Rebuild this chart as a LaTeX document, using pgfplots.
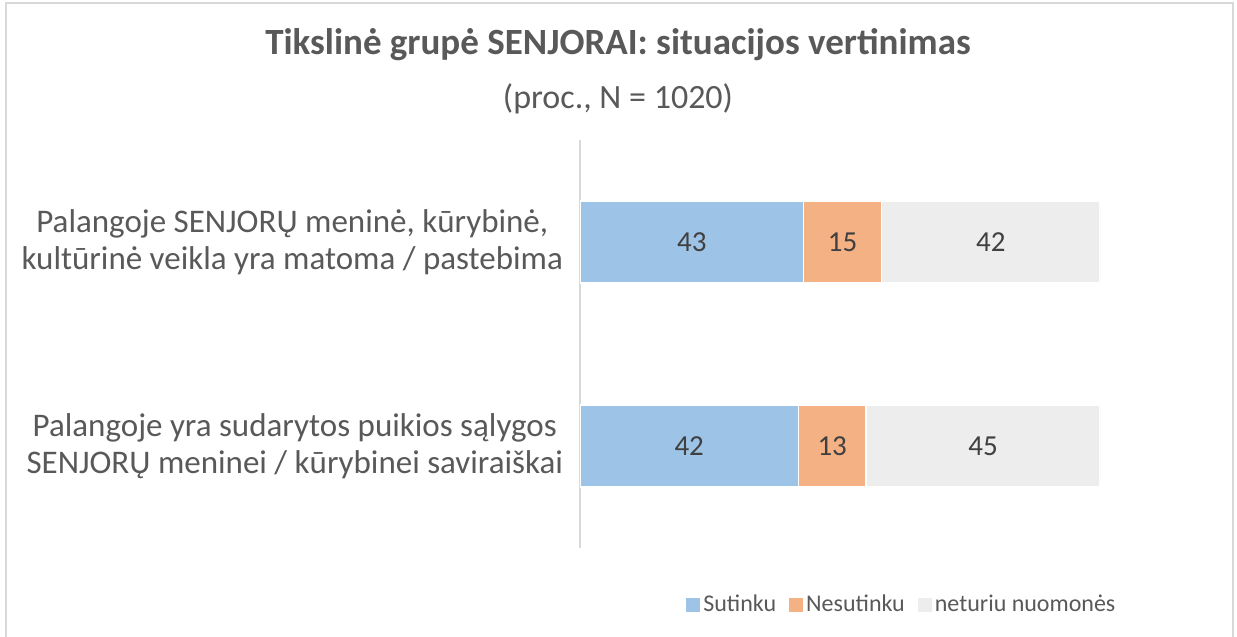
\documentclass[border=0pt]{standalone}
\usepackage{pgfplots}
\pgfplotsset{compat=1.18}
\usepackage{pgfplotstable}
\usepackage{fontspec}
\setmainfont{Carlito}
\definecolor{cBlue}{HTML}{9DC3E6}
\definecolor{cOrange}{HTML}{F4B183}
\definecolor{cGray}{HTML}{EDEDED}
\definecolor{cText}{HTML}{595959}
\definecolor{cLabel}{HTML}{404040}
\definecolor{cAxis}{HTML}{D9D9D9}
\pgfplotstableread{
pos a b c
1 43 15 42
0 42 13 45
}\datatable
\begin{document}
\begin{tikzpicture}
\clip (0pt,0pt) rectangle (618.5pt,318.5pt);
\fill[white] (0pt,0pt) rectangle (618.5pt,318.5pt);
\draw[cAxis, line width=1pt] (2.75pt,-10pt) rectangle (616.5pt,317pt);
\node[font=\fontsize{18.5}{22}\selectfont\bfseries, text=cText, anchor=base] at (309pt,291pt) {Tikslinė grupė SENJORAI: situacijos vertinimas};
\node[font=\fontsize{17}{19}\selectfont, text=cText, anchor=base] at (309pt,264pt) {(proc., N = 1020)};
\begin{axis}[
  at={(290pt,44.5pt)}, anchor=south west,
  scale only axis, width=260pt, height=204pt,
  xmin=0, xmax=100, ymin=-0.5, ymax=1.5,
  xbar stacked, bar width=41pt,
  axis x line=none, axis y line*=left,
  y axis line style={draw=cAxis, line width=1pt, -},
  ytick={0,1}, ytick style={draw=none},
  yticklabels={{Palangoje yra sudarytos puikios sąlygos\\SENJORŲ meninei / kūrybinei saviraiškai},
               {Palangoje SENJORŲ meninė, kūrybinė,\\kultūrinė veikla yra matoma / pastebima}},
  yticklabel style={align=center, font=\fontsize{16.5}{18.5}\selectfont, text=cText, xshift=-5pt},
  legend style={at={(0.2038,-0.1397)}, anchor=west, draw=none, fill=none,
    legend columns=-1, font=\fontsize{12}{14}\selectfont, text=cText,
    inner sep=0pt, nodes={inner sep=1.5pt},
    /tikz/every even column/.append style={column sep=5pt}},
  legend image code/.code={\fill[#1,draw=none] (0pt,-3.5pt) rectangle (7pt,3.5pt);},
]
\addplot[fill=cBlue, draw=white, line width=0.6pt] table[x=a, y=pos] {\datatable};
\addplot[fill=cOrange, draw=white, line width=0.6pt] table[x=b, y=pos] {\datatable};
\addplot[fill=cGray, draw=white, line width=0.6pt] table[x=c, y=pos] {\datatable};
\legend{Sutinku, Nesutinku, neturiu nuomonės}
\end{axis}
\begin{axis}[
  at={(290pt,44.5pt)}, anchor=south west,
  scale only axis, width=260pt, height=204pt,
  xmin=0, xmax=100, ymin=-0.5, ymax=1.5,
  hide axis, clip=false,
  /pgf/number format/assume math mode=true,
  nodes near coords, point meta=explicit,
  nodes near coords={\pgfmathprintnumber{\pgfplotspointmeta}},
  nodes near coords align={anchor=center},
  every node near coord/.append style={anchor=center, font=\fontsize{14.5}{16}\selectfont, text=cLabel},
]
\addplot[draw=none, mark=none] table[x expr=\thisrow{a}/2, y=pos, meta=a] {\datatable};
\addplot[draw=none, mark=none] table[x expr=\thisrow{a}+\thisrow{b}/2, y=pos, meta=b] {\datatable};
\addplot[draw=none, mark=none] table[x expr=\thisrow{a}+\thisrow{b}+\thisrow{c}/2, y=pos, meta=c] {\datatable};
\end{axis}
\end{tikzpicture}
\end{document}
